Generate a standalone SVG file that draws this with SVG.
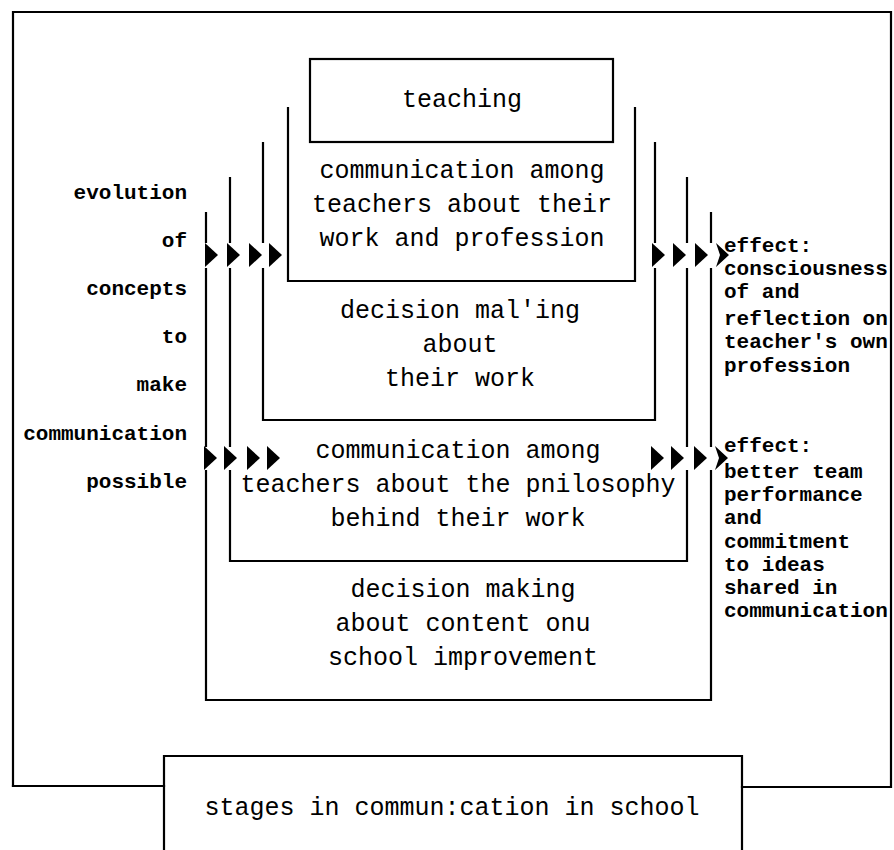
<svg xmlns="http://www.w3.org/2000/svg" width="894" height="850" viewBox="0 0 894 850">
  <style>
    .ln { fill: none; stroke: #000; stroke-width: 2.2; stroke-linecap: square; }
    .big { font-family: "Liberation Mono", "DejaVu Sans Mono", monospace; font-size: 25px; fill: #000; text-anchor: middle; }
    .sm { font-family: "Liberation Mono", "DejaVu Sans Mono", monospace; font-size: 21px; fill: #000; font-weight: bold; }
    .arr { fill: #000; }
  </style>
  <defs>
    <polygon id="tri" points="0,-12 13,0 0,12"/>
    <polygon id="chev" points="0,-12 13,0 0,12 4,0"/>
  </defs>
  <rect width="894" height="850" fill="#fff"/>

  <!-- outer frame -->
  <g id="frame">
    <path class="ln" d="M13,786 V12 H891 V787 H742"/>
    <path class="ln" d="M13,786 H164"/>
  </g>

  <g id="teaching">
    <rect class="ln" x="310" y="59" width="303" height="83"/>
    <text class="big" x="462" y="107">teaching</text>
  </g>

  <g id="comm-work">
    <path class="ln" d="M288,108 V281 H635 V108"/>
    <text class="big" x="462" y="178">communication among</text>
    <text class="big" x="462" y="212">teachers about their</text>
    <text class="big" x="462" y="246">work and profession</text>
  </g>

  <g id="decision-work">
    <path class="ln" d="M263,143 V242 M263,269 V420 H655 V269 M655,242 V143"/>
    <text class="big" x="460" y="318">decision mal'ing</text>
    <text class="big" x="460" y="352">about</text>
    <text class="big" x="460" y="386">their work</text>
  </g>

  <g id="comm-philosophy">
    <path class="ln" d="M230,178 V242 M230,269 V446 M230,471 V561 H687 V471 M687,446 V269 M687,242 V178"/>
    <text class="big" x="458" y="458">communication among</text>
    <text class="big" x="458" y="492">teachers about the pnilosophy</text>
    <text class="big" x="458" y="526">behind their work</text>
  </g>

  <g id="decision-content">
    <path class="ln" d="M206,213 V242 M206,269 V446 M206,471 V700 H711 V471 M711,446 V269 M711,242 V213"/>
    <text class="big" x="463" y="597">decision making</text>
    <text class="big" x="463" y="631">about content onu</text>
    <text class="big" x="463" y="665">school improvement</text>
  </g>

  <g id="title">
    <path class="ln" d="M164,850 V756 H742 V850"/>
    <text class="big" x="452" y="815">stages in commun:cation in school</text>
  </g>

  <g id="evolution-label">
    <text class="sm" text-anchor="end" x="187" y="199">evolution</text>
    <text class="sm" text-anchor="end" x="187" y="247">of</text>
    <text class="sm" text-anchor="end" x="187" y="295">concepts</text>
    <text class="sm" text-anchor="end" x="187" y="343">to</text>
    <text class="sm" text-anchor="end" x="187" y="391">make</text>
    <text class="sm" text-anchor="end" x="187" y="440">communication</text>
    <text class="sm" text-anchor="end" x="187" y="488">possible</text>
  </g>

  <g id="effect-reflection">
    <text class="sm" x="724" y="252">effect:</text>
    <text class="sm" x="724" y="275">consciousness</text>
    <text class="sm" x="724" y="298">of and</text>
    <text class="sm" x="724" y="325">reflection on</text>
    <text class="sm" x="724" y="348">teacher's own</text>
    <text class="sm" x="724" y="372">profession</text>
  </g>

  <g id="effect-team">
    <text class="sm" x="724" y="452">effect:</text>
    <text class="sm" x="724" y="478">better team</text>
    <text class="sm" x="724" y="501">performance</text>
    <text class="sm" x="724" y="524">and</text>
    <text class="sm" x="724" y="548">commitment</text>
    <text class="sm" x="724" y="571">to ideas</text>
    <text class="sm" x="724" y="594">shared in</text>
    <text class="sm" x="724" y="617">communication</text>
  </g>

  <!-- arrow rows -->
  <g id="connectors" class="arr">
    <use href="#tri" x="205" y="255"/>
    <use href="#tri" x="227" y="255"/>
    <use href="#tri" x="249" y="255"/>
    <use href="#tri" x="269" y="255"/>
    <use href="#tri" x="652" y="255"/>
    <use href="#tri" x="673" y="255"/>
    <use href="#tri" x="695" y="255"/>
    <use href="#chev" x="716" y="255"/>

    <use href="#tri" x="204" y="458"/>
    <use href="#tri" x="224" y="458"/>
    <use href="#tri" x="247" y="458"/>
    <use href="#tri" x="267" y="458"/>
    <use href="#tri" x="651" y="458"/>
    <use href="#tri" x="671" y="458"/>
    <use href="#tri" x="694" y="458"/>
    <use href="#chev" x="715" y="458"/>
  </g>
</svg>
